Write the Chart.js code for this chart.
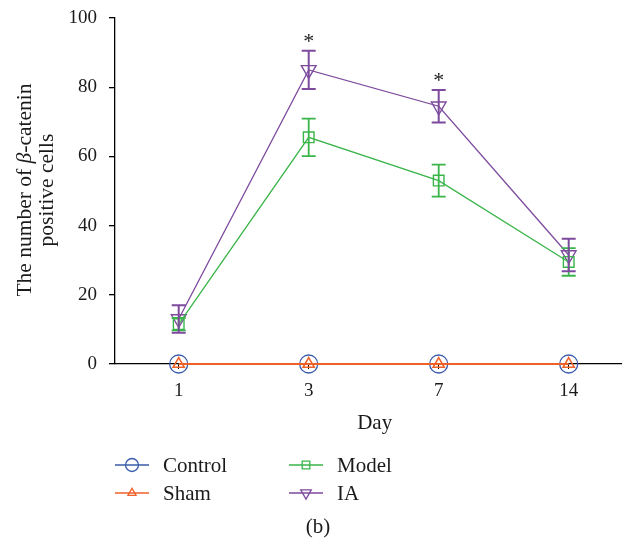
<!DOCTYPE html>
<html>
<head>
<meta charset="utf-8">
<script src="https://cdn.jsdelivr.net/npm/chart.js@4/dist/chart.umd.min.js"></script>
<style>
  body { margin: 0; background: #fff; }
</style>
</head>
<body>
<canvas id="c" width="622" height="541"></canvas>
<script>
// days on the x axis
const days = ['1', '3', '7', '14'];
// group means
const controlVals = [0, 0, 0, 0];
const shamVals = [0, 0, 0, 0];
const modelVals = [11.5, 65.5, 53, 29.5];
const iaVals = [13, 85, 74.5, 31.5];
// error bar half lengths
const modelErr = [1.8, 5.4, 4.6, 4];
const iaErr = [4, 5.5, 4.7, 4.7];
// days marked with * (IA)
const sigDays = ['3', '7'];
const yTicks = [0, 20, 40, 60, 80, 100];

const serif = '"Liberation Serif", "DejaVu Serif", serif';

function pts(vals) {
  return vals.map((v, i) => ({ x: i, y: v }));
}

// error bars + asterisks
const errPlugin = {
  id: 'errbars',
  afterDatasetsDraw(chart) {
    const ctx = chart.ctx;
    const xs = chart.scales.x, ys = chart.scales.y;
    chart.data.datasets.forEach(ds => {
      if (!ds.err) return;
      ctx.save();
      ctx.strokeStyle = ds.borderColor;
      ctx.lineWidth = ds.errWidth;
      ds.err.forEach((e, i) => {
        const px = xs.getPixelForValue(i);
        const top = ys.getPixelForValue(ds.vals[i] + e);
        const bot = ys.getPixelForValue(ds.vals[i] - e);
        ctx.beginPath();
        ctx.moveTo(px, top); ctx.lineTo(px, bot);
        ctx.moveTo(px - 7, top); ctx.lineTo(px + 7, top);
        ctx.moveTo(px - 7, bot); ctx.lineTo(px + 7, bot);
        ctx.stroke();
      });
      if (ds.sig) {
        ctx.fillStyle = '#222';
        ctx.font = '22px ' + serif;
        ctx.textAlign = 'center';
        ctx.textBaseline = 'alphabetic';
        ds.sig.forEach(d => {
          const i = days.indexOf(d);
          const px = xs.getPixelForValue(i);
          const py = ys.getPixelForValue(ds.vals[i] + ds.err[i]);
          ctx.fillText('*', px, py - 3);
        });
      }
      ctx.restore();
    });
  }
};

// y title with italic beta, x title, legend, panel label
const decoPlugin = {
  id: 'deco',
  afterDraw(chart) {
    const ctx = chart.ctx;
    const area = chart.chartArea;
    const midY = (area.top + area.bottom) / 2 - 1;
    ctx.save();
    ctx.fillStyle = '#1a1a1a';
    ctx.textBaseline = 'middle';

    // y title
    const fs = '21.5px ' + serif;
    const parts = [
      ['The number of ', fs],
      ['\u03B2', 'italic ' + fs],
      ['-catenin', fs]
    ];
    let w = 0;
    parts.forEach(p => { ctx.font = p[1]; w += ctx.measureText(p[0]).width; });
    ctx.save();
    ctx.translate(25, midY);
    ctx.rotate(-Math.PI / 2);
    ctx.textAlign = 'left';
    let x0 = -w / 2;
    parts.forEach(p => { ctx.font = p[1]; ctx.fillText(p[0], x0, 0); x0 += ctx.measureText(p[0]).width; });
    ctx.font = fs;
    ctx.textAlign = 'center';
    ctx.fillText('positive cells', 0, 22);
    ctx.restore();

    // x title
    ctx.font = '21px ' + serif;
    ctx.textAlign = 'center';
    ctx.fillText('Day', (chart.scales.x.getPixelForValue(1) + chart.scales.x.getPixelForValue(2)) / 2 + 1, 423);

    // legend
    const slots = [[115, 465], [115, 493], [289, 465], [289, 493]];
    chart.data.datasets.forEach((ds, k) => {
      const [lx, ly] = slots[k];
      ctx.strokeStyle = ds.borderColor;
      ctx.fillStyle = 'rgba(0,0,0,0)';
      ctx.lineWidth = 1.3;
      ctx.beginPath();
      ctx.moveTo(lx, ly); ctx.lineTo(lx + 34, ly);
      ctx.stroke();
      Chart.helpers.drawPoint(ctx, {
        pointStyle: ds.pointStyle,
        radius: ds.pointRadius * 0.72,
        rotation: ds.pointRotation || 0,
        borderWidth: 1.3
      }, lx + 17, ly);
      ctx.fillStyle = '#1a1a1a';
      ctx.font = '21px ' + serif;
      ctx.textAlign = 'left';
      ctx.fillText(ds.label, lx + 48, ly + 1);
    });

    ctx.textAlign = 'center';
    ctx.fillText('(b)', 318, 527);
    ctx.restore();
  }
};

const blue = '#3a5bab', orange = '#ee6128', green = '#3ab54a', purple = '#7d4a9d';

new Chart(document.getElementById('c'), {
  type: 'line',
  data: {
    datasets: [
      { label: 'Control', data: pts(controlVals), borderColor: blue, backgroundColor: 'rgba(0,0,0,0)',
        pointStyle: 'circle', pointRadius: 9, borderWidth: 1.3, pointBorderWidth: 1.3, order: 2, clip: false },
      { label: 'Sham', data: pts(shamVals), borderColor: orange, backgroundColor: 'rgba(0,0,0,0)',
        pointStyle: 'triangle', pointRadius: 6.5, borderWidth: 2.2, pointBorderWidth: 1.5, order: 1, clip: false },
      { label: 'Model', data: pts(modelVals), vals: modelVals, err: modelErr, errWidth: 1.8,
        borderColor: green, backgroundColor: 'rgba(0,0,0,0)', clip: false,
        pointStyle: 'rect', pointRadius: 7.5, borderWidth: 1.3, pointBorderWidth: 1.4 },
      { label: 'IA', data: pts(iaVals), vals: iaVals, err: iaErr, errWidth: 2, sig: sigDays,
        borderColor: purple, backgroundColor: 'rgba(0,0,0,0)', clip: false,
        pointStyle: 'triangle', pointRotation: 180, pointRadius: 8.5, borderWidth: 1.3, pointBorderWidth: 1.4 }
    ]
  },
  options: {
    responsive: false,
    animation: false,
    layout: { autoPadding: false, padding: { top: 18, right: 0, left: 0, bottom: 0 } },
    plugins: { legend: { display: false }, tooltip: { enabled: false } },
    scales: {
      x: {
        type: 'linear',
        min: -0.49,
        max: 3.41,
        afterBuildTicks: s => { s.ticks = days.map((d, i) => ({ value: i })); },
        afterFit: s => { s.height = 177; s.paddingLeft = 0; s.paddingRight = 0; },
        grid: { drawOnChartArea: false, drawTicks: true, tickLength: 5, color: '#000', lineWidth: 1 },
        border: { color: '#000', width: 1.3 },
        ticks: {
          callback: v => days[v],
          color: '#1a1a1a',
          font: { family: serif, size: 19 },
          padding: 11,
          maxRotation: 0
        }
      },
      y: {
        min: 0,
        max: 100,
        afterBuildTicks: s => { s.ticks = yTicks.map(v => ({ value: v })); },
        afterFit: s => { s.width = 115; s.paddingTop = 0; s.paddingBottom = 0; },
        grid: { drawOnChartArea: false, drawTicks: true, tickLength: 6, color: '#000', lineWidth: 1.3 },
        border: { color: '#000', width: 1.3 },
        ticks: { color: '#1a1a1a', font: { family: serif, size: 19 }, padding: 12 }
      }
    }
  },
  plugins: [errPlugin, decoPlugin]
});
</script>
</body>
</html>
